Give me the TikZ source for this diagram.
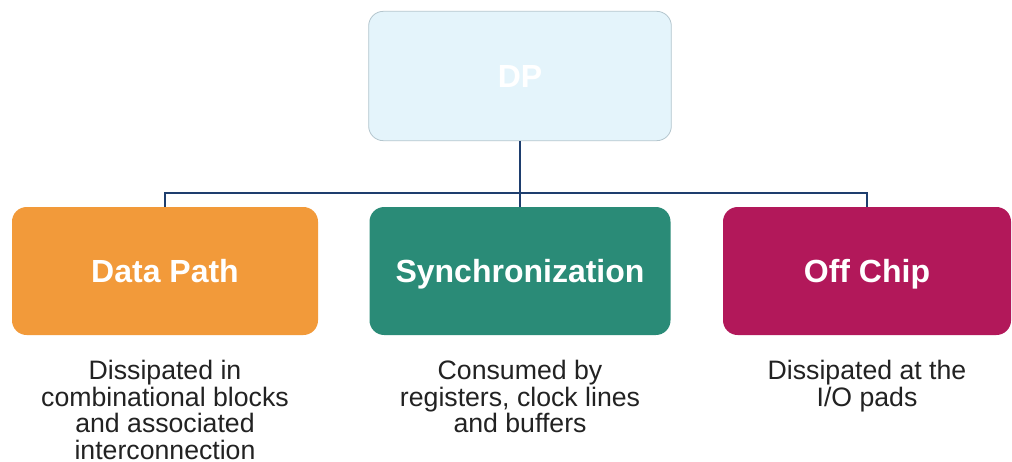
\documentclass[tikz,border=0pt]{standalone}
\usepackage{fontspec}
\setmainfont{Liberation Sans}
\usetikzlibrary{positioning}
\definecolor{dpfill}{HTML}{E4F4FB}
\definecolor{dpedge}{HTML}{B4C6CE}
\definecolor{pathfill}{HTML}{F29A3A}
\definecolor{syncfill}{HTML}{2A8B77}
\definecolor{chipfill}{HTML}{B2185A}
\definecolor{linkblue}{HTML}{1E3E6E}
\definecolor{notegray}{HTML}{222222}
\begin{document}
\begin{tikzpicture}[x=0.75pt,y=-0.75pt,
    block/.style={rectangle,rounded corners=11pt,minimum height=96pt,text=white,
      text height=22pt,text depth=5pt,
      font=\fontsize{24}{28}\selectfont\bfseries},
    note/.style={align=center,inner sep=0pt,text=notegray,
      font=\fontsize{20}{20}\selectfont},
    link/.style={draw=linkblue,line width=1.3pt}]
  \useasboundingbox[fill=white] (0,0) rectangle (1012,461);
  % top block
  \node[block,fill=dpfill,draw=dpedge,line width=0.6pt,minimum width=227pt,minimum height=97pt] (dp) at (520,76) {DP};
  % three parts
  \node[block,fill=pathfill,minimum width=229.5pt] (path) at (165,271) {Data Path};
  \node[block,fill=syncfill,minimum width=225.75pt] (sync) at (520,271) {Synchronization};
  \node[block,fill=chipfill,minimum width=216pt] (chip) at (867,271) {Off Chip};
  % notes
  \node[note,below=18.5pt of path] (pathnote) {Dissipated in\\combinational blocks\\and associated\\interconnection};
  \node[note,below=18.5pt of sync] (syncnote) {Consumed by\\registers, clock lines\\and buffers};
  \node[note,below=18.5pt of chip] (chipnote) {Dissipated at the\\I/O pads};
  % tree lines
  \coordinate (bus) at (520,193);
  \begin{scope}[link]
    \draw (dp) -- (sync);
    \draw (path.north) |- (bus) -| (chip.north);
  \end{scope}
\end{tikzpicture}
\end{document}
